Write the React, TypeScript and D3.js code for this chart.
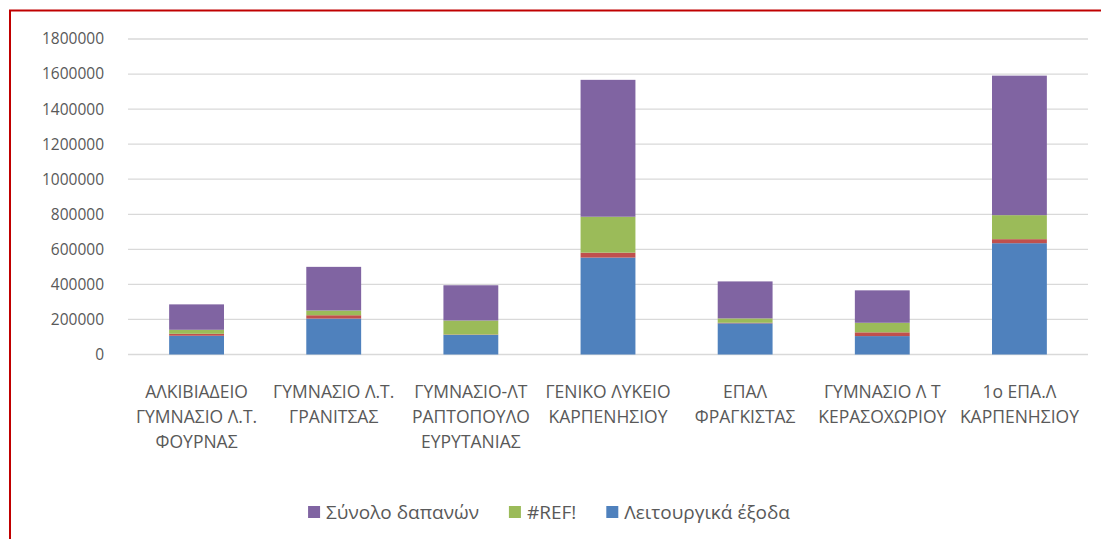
import React, { useEffect, useRef } from "react";
import * as d3 from "d3";

const categories: string[][] = [
  ["ΑΛΚΙΒΙΑΔΕΙΟ", "ΓΥΜΝΑΣΙΟ Λ.Τ.", "ΦΟΥΡΝΑΣ"],
  ["ΓΥΜΝΑΣΙΟ Λ.Τ.", "ΓΡΑΝΙΤΣΑΣ"],
  ["ΓΥΜΝΑΣΙΟ-ΛΤ", "ΡΑΠΤΟΠΟΥΛΟ", "ΕΥΡΥΤΑΝΙΑΣ"],
  ["ΓΕΝΙΚΟ ΛΥΚΕΙΟ", "ΚΑΡΠΕΝΗΣΙΟΥ"],
  ["ΕΠΑΛ", "ΦΡΑΓΚΙΣΤΑΣ"],
  ["ΓΥΜΝΑΣΙΟ Λ Τ", "ΚΕΡΑΣΟΧΩΡΙΟΥ"],
  ["1ο ΕΠΑ.Λ", "ΚΑΡΠΕΝΗΣΙΟΥ"],
];

const leitourgika: number[] = [107000, 205000, 112000, 553000, 178000, 105000, 635000];
const unnamed: number[] = [11000, 19000, 2000, 28000, 3000, 21500, 23000];
const refSeries: number[] = [23000, 27000, 80000, 205000, 25000, 54500, 137000];
const synolo: number[] = [145000, 249000, 201000, 781000, 211000, 185000, 796000];

const yTicks: number[] = [0, 200000, 400000, 600000, 800000, 1000000, 1200000, 1400000, 1600000, 1800000];

const seriesKeys = ["leit", "unn", "ref", "syn"];
const seriesColors: Record<string, string> = {
  leit: "#4F81BD",
  unn: "#C0504D",
  ref: "#9BBB59",
  syn: "#8064A2",
};
const legendItems = [
  { key: "syn", label: "Σύνολο δαπανών" },
  { key: "ref", label: "#REF!" },
  { key: "leit", label: "Λειτουργικά έξοδα" },
];

const W = 1101;
const H = 539;
const FONT = "'Open Sans', 'Noto Sans', sans-serif";
const TEXT = "#595959";

export default function App() {
  const ref = useRef<SVGSVGElement | null>(null);

  useEffect(() => {
    const svg = d3.select(ref.current);
    svg.selectAll("*").remove();

    svg.append("rect").attr("x", 0).attr("y", 0).attr("width", W).attr("height", H).attr("fill", "#fff");
    // frame (only top and left visible)
    svg.append("rect")
      .attr("x", 10).attr("y", 10.5).attr("width", W + 20).attr("height", H + 20)
      .attr("fill", "none").attr("stroke", "#C00000").attr("stroke-width", 2);

    const x0 = 128, x1 = 1088, yTop = 39, yBot = 354.5;
    const idx = categories.map((_, i) => String(i));
    const x = d3.scaleBand<string>().domain(idx).range([x0, x1]).paddingInner(0.6).paddingOuter(0.3);
    const y = d3.scaleLinear().domain([0, 1800000]).range([yBot, yTop]);

    const g = svg.append("g");
    g.selectAll("line.grid").data(yTicks).enter().append("line")
      .attr("x1", x0).attr("x2", x1)
      .attr("y1", (d) => y(d)).attr("y2", (d) => y(d))
      .attr("stroke", "#D9D9D9").attr("stroke-width", 1.3);

    g.selectAll("text.yt").data(yTicks).enter().append("text")
      .attr("x", 104).attr("y", (d) => y(d))
      .attr("dy", "0.35em").attr("text-anchor", "end")
      .attr("font-family", FONT).attr("font-size", 15.5).attr("fill", TEXT)
      .text((d) => String(d));

    const rows = categories.map((_, i) => ({
      cat: String(i),
      leit: leitourgika[i],
      unn: unnamed[i],
      ref: refSeries[i],
      syn: synolo[i],
    }));
    const stacked = d3.stack<any>().keys(seriesKeys)(rows);

    stacked.forEach((layer) => {
      g.selectAll(null).data(layer).enter().append("rect")
        .attr("x", (d: any) => x(d.data.cat)!)
        .attr("width", x.bandwidth())
        .attr("y", (d: any) => y(d[1]))
        .attr("height", (d: any) => y(d[0]) - y(d[1]))
        .attr("fill", seriesColors[layer.key]);
    });

    // category labels
    categories.forEach((lines, i) => {
      const cx = x(String(i))! + x.bandwidth() / 2;
      const t = g.append("text")
        .attr("text-anchor", "middle")
        .attr("font-family", FONT).attr("font-size", 17.5).attr("fill", TEXT);
      lines.forEach((ln, j) => {
        t.append("tspan").attr("x", cx).attr("y", 398 + j * 25).text(ln);
      });
    });

    // legend
    const lg = svg.append("g");
    const items: { g: any; w: number }[] = [];
    legendItems.forEach((it) => {
      const ig = lg.append("g");
      ig.append("rect").attr("x", 0).attr("y", 506).attr("width", 12).attr("height", 12)
        .attr("fill", seriesColors[it.key]);
      const tx = ig.append("text").attr("x", 18).attr("y", 512).attr("dy", "0.35em")
        .attr("font-family", FONT).attr("font-size", 19).attr("fill", TEXT).text(it.label);
      const tw = (tx.node() as SVGTextElement).getComputedTextLength();
      items.push({ g: ig, w: 18 + tw });
    });
    const gap = 30;
    const total = items.reduce((s, a) => s + a.w, 0) + gap * (items.length - 1);
    let cur = 549 - total / 2;
    items.forEach((it) => {
      it.g.attr("transform", `translate(${cur},0)`);
      cur += it.w + gap;
    });
  }, []);

  return (
    <svg
      ref={ref}
      width={W}
      height={H}
      style={{ position: "absolute", left: 0, top: 0, display: "block" }}
    />
  );
}
